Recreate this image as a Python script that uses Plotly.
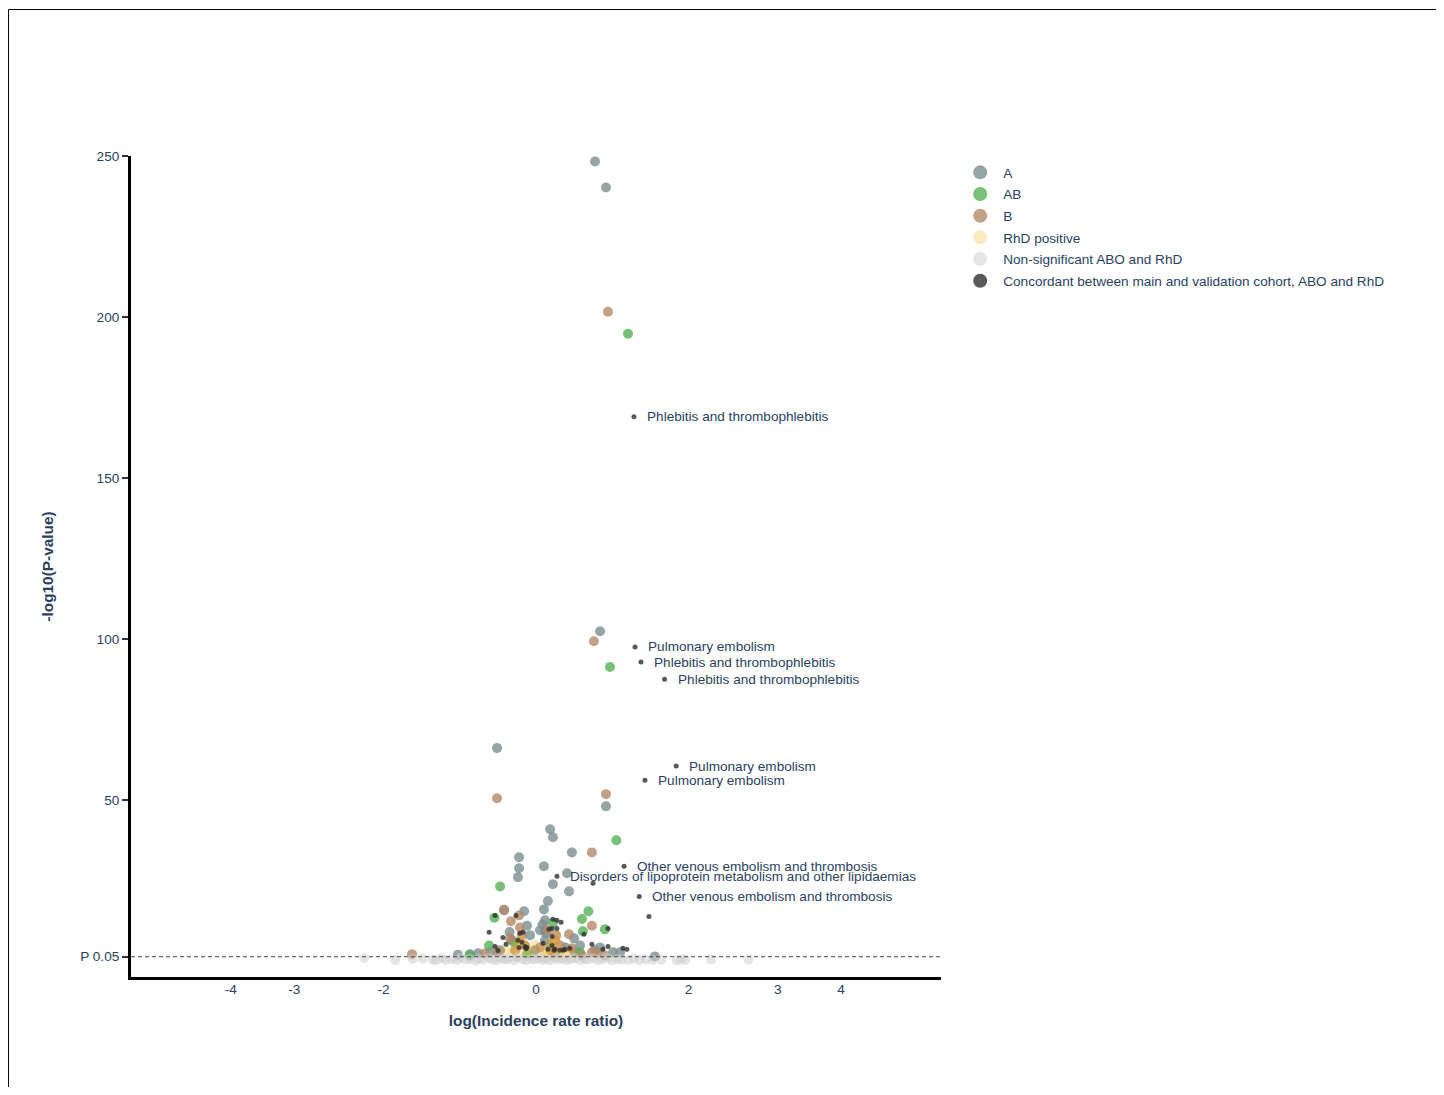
import math
import plotly.graph_objects as go

# ---------------- data ----------------
A_x = [0.268, 0.318, 0.291, -0.177, 0.318, 0.064, 0.077, 0.163, -0.077, 0.036, -0.077, 0.141,
       -0.082, 0.077, 0.150, 0.054, 0.036, -0.054, -0.145, 0.041, 0.173, 0.350, 0.540,
       -0.041, -0.027, -0.109, 0.018, 0.041, 0.064, 0.132, 0.200, 0.268, 0.291, 0.382,
       -0.163, -0.209, -0.263, -0.300, -0.355, -0.005, 0.086, 0.177, 0.045, 0.030, -0.120, 0.041]
A_y = [248.3, 240.2, 102.4, 66.1, 48.0, 40.9, 38.4, 33.7, 32.2, 29.4, 28.8, 27.2,
       26.0, 23.8, 21.6, 18.6, 16.0, 15.4, 15.9, 12.6, 7.0, 2.7, 1.4,
       10.9, 8.0, 6.4, 9.5, 6.4, 4.8, 4.2, 4.8, 3.3, 4.2, 2.7,
       3.3, 2.7, 2.4, 2.1, 1.9, 3.3, 2.7, 2.7, 8.6, 11.3, 9.0, 9.5]

AB_x = [0.418, 0.336, 0.365, -0.163, 0.238, -0.189, 0.209, 0.313, 0.213, -0.213, -0.302,
        0.077, -0.100, 0.200, -0.041]
AB_y = [194.8, 91.3, 37.5, 23.1, 15.4, 13.4, 13.0, 9.8, 9.2, 4.8, 1.7,
        11.8, 5.8, 2.6, 2.0]

B_x = [0.327, 0.263, -0.177, 0.318, 0.254, -0.145, -0.077, -0.114, 0.254, 0.150, -0.073,
       -0.563, 0.209, 0.254, -0.232, 0.091, 0.277, -0.064, -0.050, 0.054, 0.086, 0.109,
       0.018, -0.095, 0.163, 0.313, -0.173, -0.118, 0.068]
B_y = [201.6, 99.3, 50.5, 51.8, 33.7, 15.7, 14.1, 12.3, 10.9, 8.3, 10.4,
       2.1, 1.7, 2.7, 2.4, 8.0, 2.4, 8.0, 4.8, 9.5, 6.4, 4.8,
       4.2, 3.3, 3.9, 1.7, 2.7, 7.0, 3.0]

RHD_x = [-0.073, -0.050, -0.104, -0.027, 0.041, 0.064, 0.054, 0.109, 0.091, 0.154, 0.018,
         -0.141, -0.005, 0.132, -0.082, 0.073, -0.060, 0.080, 0.100, -0.090]
RHD_y = [6.4, 3.9, 2.7, 2.4, 3.3, 4.8, 2.4, 3.3, 7.0, 2.7, 1.7,
         3.3, 4.8, 1.7, 1.7, 1.7, 5.5, 5.6, 2.2, 4.5]

NS_x = [-0.78, -0.64, -0.56, -0.515, -0.47, -0.455, -0.43, -0.41, -0.385, -0.36, -0.345,
        -0.32, -0.30, -0.275, -0.26, -0.24, -0.215, -0.20, -0.18, -0.16, -0.14, -0.125,
        -0.10, -0.085, -0.06, -0.045, -0.02, -0.005, 0.015, 0.03, 0.05, 0.065, 0.09, 0.10,
        0.12, 0.14, 0.16, 0.175, 0.20, 0.22, 0.235, 0.26, 0.28, 0.30, 0.325, 0.345, 0.37,
        0.39, 0.42, 0.445, 0.47, 0.50, 0.53, 0.57, 0.64, 0.66, 0.68, 0.795, 0.965]
NS_y = [0.9, 0.3, 0.6, 0.7, 0.4, 0.2, 0.8, 0.3, 0.5, 0.2, 0.9,
        0.4, 0.6, 0.1, 0.7, 0.3, 1.0, 0.5, 0.2, 0.8, 0.4, 0.6,
        0.3, 1.1, 0.5, 0.2, 0.7, 0.4, 0.9, 0.3, 0.6, 0.2, 1.0, 0.4,
        0.7, 0.3, 0.5, 0.9, 0.2, 0.6, 0.4, 0.8, 0.3, 0.5, 1.0, 0.2, 0.6,
        0.4, 0.3, 0.7, 0.2, 0.5, 0.3, 0.4, 0.2, 0.5, 0.3, 0.4, 0.4]

CONC_x = [-0.186, -0.091, 0.077, 0.095, 0.114, -0.213, -0.150, 0.327, 0.218, 0.513, -0.059,
          -0.082, 0.073, 0.032, 0.073, -0.186, -0.136, -0.077, -0.050, 0.054, 0.086, 0.109,
          0.132, 0.254, 0.304, 0.327, 0.395, 0.413, 0.073, 0.059, -0.073, -0.041, 0.154,
          0.082, 0.123, 0.095, 0.259, -0.173, -0.064, -0.045]
CONC_y = [14.1, 14.1, 12.9, 12.6, 12.0, 8.9, 7.3, 10.1, 8.3, 13.8, 8.9,
          6.4, 7.6, 5.5, 4.8, 4.5, 5.2, 4.2, 4.5, 3.6, 3.6, 3.3,
          3.6, 5.2, 3.6, 4.5, 3.9, 3.6, 10.1, 9.8, 8.6, 4.2, 3.9,
          3.3, 3.3, 10.1, 24.1, 3.2, 5.8, 3.8]

LAB_x = [0.445, 0.450, 0.477, 0.584, 0.637, 0.495, 0.400, 0.095, 0.469]
LAB_y = [169.0, 97.5, 92.8, 87.5, 60.5, 56.1, 29.4, 26.3, 20.0]
LAB_text = ["Phlebitis and thrombophlebitis", "Pulmonary embolism",
            "Phlebitis and thrombophlebitis", "Phlebitis and thrombophlebitis",
            "Pulmonary embolism", "Pulmonary embolism",
            "Other venous embolism and thrombosis",
            "Disorders of lipoprotein metabolism and other lipidaemias",
            "Other venous embolism and thrombosis"]

TICK_RATIOS = [-4, -3, -2, 0, 2, 3, 4]
Y_TICKS = [-math.log10(0.05), 50, 100, 150, 200, 250]
Y_TICKTEXT = ["P 0.05", "50", "100", "150", "200", "250"]

# ---------------- styling ----------------
FONT = "Arial, Liberation Sans, sans-serif"
TXT = "#2a3f5f"
FS = 13.6

groups = [
    ("A", A_x, A_y, "#7b8f90", 0.8, 10),
    ("AB", AB_x, AB_y, "#54b056", 0.8, 10),
    ("B", B_x, B_y, "#b58869", 0.8, 10),
    ("RhD positive", RHD_x, RHD_y, "#f2b01e", 0.28, 11),
    ("Non-significant ABO and RhD", NS_x, NS_y, "#cccccc", 0.5, 10),
    ("Concordant between main and validation cohort, ABO and RhD",
     CONC_x + LAB_x, CONC_y + LAB_y, "#2e2e2e", 0.8, 5),
]

fig = go.Figure()
for name, xs, ys, col, op, sz in groups:
    fig.add_trace(go.Scatter(x=xs, y=ys, mode="markers", name=name, showlegend=False,
                             marker=dict(color=col, opacity=op, size=sz, line=dict(width=0)),
                             hoverinfo="x+y"))
# legend entries (marker size as in the reference legend)
for name, xs, ys, col, op, sz in groups:
    fig.add_trace(go.Scatter(x=[None], y=[None], mode="markers", name=name, showlegend=True,
                             legendgroup=name,
                             marker=dict(color=col, opacity=op, size=14, line=dict(width=0))))

for x, y, t in zip(LAB_x, LAB_y, LAB_text):
    fig.add_annotation(x=x, y=y, text=t, showarrow=False, xanchor="left", yanchor="middle",
                       xshift=11, font=dict(family=FONT, size=FS, color=TXT))

# significance threshold
fig.add_shape(type="line", xref="paper", x0=0, x1=1, yref="y",
              y0=-math.log10(0.05), y1=-math.log10(0.05),
              line=dict(color="#444444", width=1, dash="4px,3px"))

# outer frame (left, top, right)
fig.add_shape(type="path", xref="paper", yref="paper",
              path="M -0.1512,-0.2 L -0.1512,1.1784 L 1.6154,1.1784 L 1.6154,-0.2",
              line=dict(color="black", width=1))

fig.update_layout(
    width=1432, height=1079,
    margin=dict(l=123, r=499, t=148, b=110),
    paper_bgcolor="white", plot_bgcolor="white",
    font=dict(family=FONT, size=FS, color=TXT),
    legend=dict(font=dict(family=FONT, size=FS, color=TXT), x=1.02, y=0.9988,
                xanchor="left", yanchor="top", tracegroupgap=1, itemwidth=36),
    showlegend=True,
)
fig.update_xaxes(
    range=[-1.84, 1.84],
    tickvals=[math.copysign(math.log(abs(v)), v) if v != 0 else 0 for v in TICK_RATIOS],
    ticktext=[str(v) for v in TICK_RATIOS],
    showgrid=False, zeroline=False, showline=True, linecolor="black", linewidth=3,
    ticks="", ticklabelstandoff=-2, tickfont=dict(family=FONT, size=FS, color=TXT),
    title=dict(text="<b>log(Incidence rate ratio)</b>", standoff=19,
               font=dict(family=FONT, size=15.4, color=TXT)),
)
fig.update_yaxes(
    range=[-5, 250],
    tickvals=Y_TICKS, ticktext=Y_TICKTEXT,
    showgrid=False, zeroline=False, showline=True, linecolor="black", linewidth=3,
    ticks="outside", ticklen=6, tickwidth=2, tickcolor="#333333",
    tickfont=dict(family=FONT, size=FS, color=TXT),
    title=dict(text="<b>-log10(P-value)</b>", standoff=23,
               font=dict(family=FONT, size=15.4, color=TXT)),
)

fig.write_html("out.html")
